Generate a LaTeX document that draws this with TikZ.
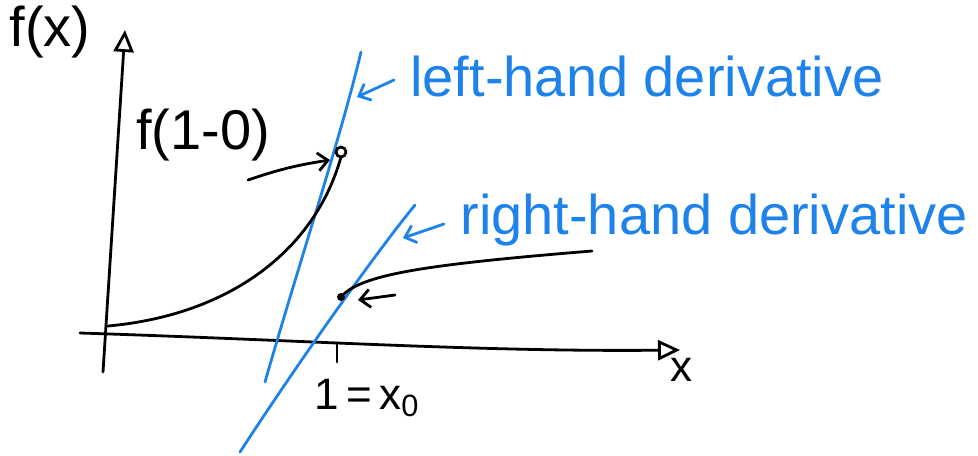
\documentclass[tikz,border=0pt]{standalone}
\usepackage{fontspec}
\setmainfont{Liberation Sans}
\usetikzlibrary{arrows.meta}
\definecolor{penblue}{RGB}{30,130,235}
\tikzset{
  ink/.style={line width=1.4pt, line cap=round, line join=round},
  blueink/.style={ink, draw=penblue},
  axistip/.style={-{Triangle[open,length=11pt,width=10pt]}},
  pointer/.style={-{Straight Barb[length=5pt,width=9pt]}},
  hand/.style={inner sep=0pt, font=\fontsize{28}{32}\selectfont},
  smallhand/.style={inner sep=0pt, font=\fontsize{22}{26}\selectfont},
}
\begin{document}
\begin{tikzpicture}[x=0.5pt, y=-0.5pt]
  \useasboundingbox (0,0) rectangle (978,455);
  % axes
  \coordinate (ybot) at (103,372);
  \coordinate (ytop) at (125,30);
  \coordinate (xleft) at (80,333);
  \coordinate (xright) at (680,350);
  \draw[ink, axistip] (ybot) -- (ytop);
  \draw[ink, axistip] (xleft) .. controls (300,340) and (480,352) .. (xright);
  \coordinate (tickA) at (337,343);
  \coordinate (tickB) at (337,362);
  \draw[ink] (tickA) -- (tickB);
  \node[hand] (fx) at (50,32) {f(x)};
  \node[smallhand] (xlabel) at (681,370) {x};
  \node[smallhand] (xzero) at (367,398) {1\,=\,x\textsubscript{0}};
  % tangent lines
  \coordinate (leftlow) at (265,382);
  \coordinate (lefthigh) at (361,52);
  \coordinate (rightlow) at (240,452);
  \coordinate (righthigh) at (415,205);
  \draw[blueink] (leftlow) .. controls (300,260) and (340,140) .. (lefthigh);
  \draw[blueink] (rightlow) .. controls (290,375) and (370,260) .. (righthigh);
  % function
  \coordinate (start) at (108,326);
  \coordinate (hole) at (341,152);
  \coordinate (jump) at (341,297);
  \coordinate (finish) at (592,251);
  \draw[ink] (start) .. controls (230,315) and (315,250) .. ([yshift=-2.5pt]hole);
  \draw[ink] (hole) circle[radius=2.5pt];
  \draw[ink] (jump) .. controls (360,275) and (420,265) .. (finish);
  \fill (jump) circle[radius=2pt];
  % labels and pointers
  \node[hand] (limit) at (203,135) {f(1-0)};
  \coordinate (tailA) at (248,180);
  \coordinate (tailB) at (395,295);
  \draw[ink, pointer] (tailA) to[bend left=5] (330,160);
  \draw[ink, pointer] (tailB) -- (358,300);
  \node[hand, text=penblue, anchor=west] (lhd) at (410,76) {left-hand derivative};
  \node[hand, text=penblue, anchor=west] (rhd) at (460,220) {right-hand derivative};
  \draw[blueink, pointer] (lhd.west) ++(-8pt,-2pt) -- (357,97);
  \draw[blueink, pointer] (rhd.west) ++(-8pt,-2pt) -- (403,238);
\end{tikzpicture}
\end{document}
